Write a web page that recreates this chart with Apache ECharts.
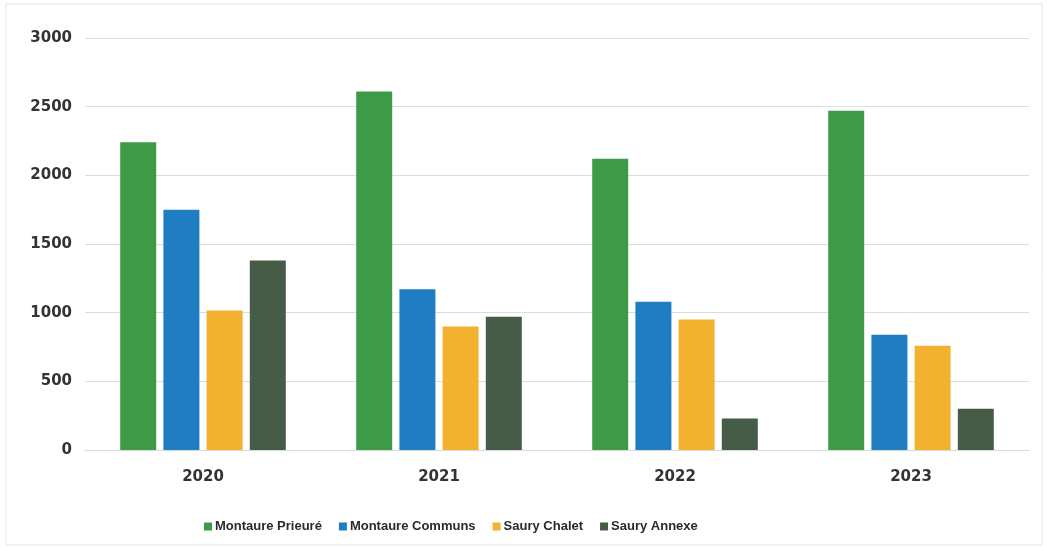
<!DOCTYPE html>
<html>
<head>
<meta charset="utf-8">
<script src="https://cdn.jsdelivr.net/npm/echarts@6/dist/echarts.min.js"></script>
<style>
html,body{margin:0;padding:0;background:#fff;}
#chart{width:1047px;height:551px;}
</style>
</head>
<body>
<div id="chart"></div>
<script>
const categories = ['2020', '2021', '2022', '2023'];
const montaurePrieure = [2240, 2610, 2120, 2470];
const montaureCommuns = [1750, 1170, 1080, 840];
const sauryChalet = [1015, 900, 950, 760];
const sauryAnnexe = [1380, 970, 230, 300];
const yTicks = [0, 500, 1000, 1500, 2000, 2500, 3000];

const chart = echarts.init(document.getElementById('chart'), null, {renderer: 'canvas'});
const axisFont = '"DejaVu Sans", sans-serif';
const legendFont = '"Liberation Sans", Arial, sans-serif';
function bar(name, data, color) {
  return {name: name, type: 'bar', data: data, barWidth: 36, barGap: '20%',
    itemStyle: {color: color}};
}
chart.setOption({
  animation: false,
  backgroundColor: '#ffffff',
  graphic: [{type: 'rect', shape: {x: 6, y: 4, width: 1036, height: 541},
    style: {fill: 'none', stroke: '#e6e6e6', lineWidth: 1}, silent: true}],
  grid: {left: 85, right: 18, top: 38, bottom: 101, containLabel: false},
  legend: {
    left: 199, top: 515, itemWidth: 8, itemHeight: 8, itemGap: 17,
    icon: 'rect',
    textStyle: {fontFamily: legendFont, fontSize: 13, fontWeight: 'bold', color: '#2a2a2a', padding: [0, 0, 0, -2]},
    data: ['Montaure Prieuré', 'Montaure Communs', 'Saury Chalet', 'Saury Annexe']
  },
  xAxis: {
    type: 'category', data: categories,
    axisLine: {show: true, lineStyle: {color: '#d9d9d9'}},
    axisTick: {show: false},
    axisLabel: {margin: 20, fontFamily: axisFont, fontSize: 15, fontWeight: 'bold', color: '#333333'}
  },
  yAxis: {
    type: 'value', min: 0, max: 3000, interval: 500,
    axisLine: {show: false}, axisTick: {show: false},
    splitLine: {lineStyle: {color: '#dcdcdc', width: 1}},
    axisLabel: {margin: 13, fontFamily: axisFont, fontSize: 15, fontWeight: 'bold', color: '#333333',
      formatter: function (v) { return yTicks.indexOf(v) >= 0 ? String(v) : ''; }}
  },
  series: [
    bar('Montaure Prieuré', montaurePrieure, '#3d9b47'),
    bar('Montaure Communs', montaureCommuns, '#1f7dc1'),
    bar('Saury Chalet', sauryChalet, '#f2b12f'),
    bar('Saury Annexe', sauryAnnexe, '#465c47')
  ]
});
</script>
</body>
</html>
